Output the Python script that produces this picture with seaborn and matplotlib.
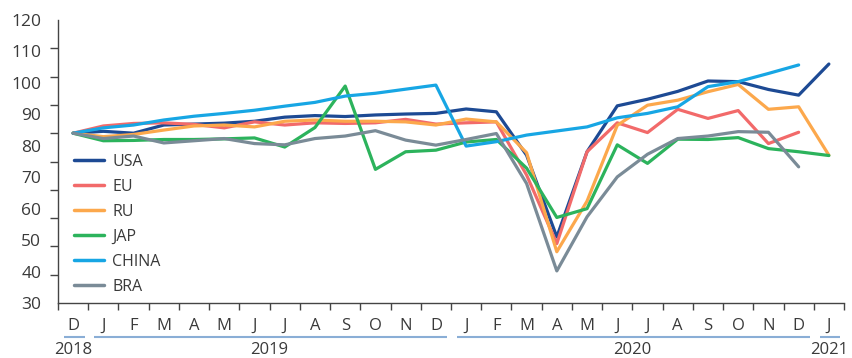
import numpy as np
import pandas as pd
import matplotlib
matplotlib.use("Agg")
import matplotlib.pyplot as plt
import seaborn as sns

# Monthly index values, Dec 2018 .. Jan 2021
months = ["D", "J", "F", "M", "A", "M", "J", "J", "A", "S", "O", "N", "D",
          "J", "F", "M", "A", "M", "J", "J", "A", "S", "O", "N", "D", "J"]
years = [2018] + [2019] * 12 + [2020] * 12 + [2021]

usa = [84.0, 84.6, 84.0, 86.6, 86.9, 87.2, 87.8, 89.1, 89.6, 89.3, 89.8, 90.1, 90.3,
       91.7, 90.8, 77.0, 51.0, 78.1, 92.7, 94.8, 97.3, 100.6, 100.4, 97.9, 96.1, 106.0]
eu = [84.0, 86.3, 87.1, 87.3, 86.8, 85.7, 87.6, 86.6, 87.3, 87.1, 87.3, 88.4, 86.9,
      87.3, 87.6, 70.7, 48.9, 78.1, 87.3, 84.2, 91.6, 88.7, 91.2, 80.7, 84.3, np.nan]
ru = [84.0, 82.9, 83.6, 85.0, 86.3, 86.6, 86.0, 87.8, 88.2, 87.8, 87.8, 87.6, 86.6,
      88.5, 87.6, 77.8, 46.3, 62.4, 86.5, 92.9, 94.5, 97.2, 99.5, 91.6, 92.4, 77.0]
jap = [84.0, 81.6, 81.7, 82.0, 82.0, 82.2, 82.5, 79.6, 85.8, 99.0, 72.5, 78.1, 78.6,
       81.2, 82.0, 72.9, 57.2, 60.0, 80.3, 74.4, 82.1, 82.0, 82.6, 79.1, 78.1, 76.9]
china = [84.0, 85.7, 86.6, 88.2, 89.4, 90.3, 91.3, 92.6, 93.8, 95.8, 96.7, 98.0, 99.3,
         79.9, 81.3, 83.4, 84.7, 86.0, 88.9, 90.3, 92.4, 98.8, 100.4, 103.0, 105.7, np.nan]
bra = [84.0, 82.3, 83.1, 80.9, 81.6, 82.3, 80.7, 80.3, 82.3, 83.1, 84.8, 81.8, 80.2,
       82.0, 83.9, 68.0, 40.2, 57.4, 70.1, 77.3, 82.3, 83.1, 84.5, 84.3, 73.3, np.nan]

series = {"USA": usa, "EU": eu, "RU": ru, "JAP": jap, "CHINA": china, "BRA": bra}
colors = {"USA": "#1d4a94", "EU": "#f26a6a", "RU": "#fca84c",
          "JAP": "#2cb35c", "CHINA": "#17a6e4", "BRA": "#7a8b97"}

y_labels = list(range(30, 121, 10))

rows = []
for name, vals in series.items():
    for i, v in enumerate(vals):
        rows.append({"t": i, "value": v, "country": name})
df = pd.DataFrame(rows).dropna()

sns.set_style("white")
plt.rcParams["font.family"] = ["Open Sans", "DejaVu Sans"]
text_color = "#3a3a3a"

fig = plt.figure(figsize=(8.52, 3.58), dpi=100)
ax = fig.add_axes([58 / 852, 55 / 358, (844 - 58) / 852, (303 - 20) / 358])

sns.lineplot(data=df, x="t", y="value", hue="country", palette=colors,
             hue_order=list(series.keys()), linewidth=2.3, sort=False,
             estimator=None, ax=ax)

n = len(months)
ax.set_xlim(-0.5, n - 0.5)
ax.set_ylim(y_labels[0], y_labels[-1])

# y axis: labels at each 10, tick marks as minor ticks
ax.set_yticks(y_labels)
ax.set_yticklabels([str(v) for v in y_labels])
ax.set_yticks(np.linspace(y_labels[0], y_labels[-1], 11), minor=True)
ax.tick_params(axis="y", which="major", length=0, pad=12, labelsize=12.5,
               labelcolor=text_color)
ax.tick_params(axis="y", which="minor", length=6, width=1, color="#444444",
               direction="out", left=True)

# x axis: month letters centred between boundary ticks
ax.set_xticks(range(n))
ax.set_xticklabels(months)
ax.set_xticks(np.arange(-0.5, n, 1.0), minor=True)
ax.tick_params(axis="x", which="major", length=0, pad=11, labelsize=12,
               labelcolor=text_color)
ax.tick_params(axis="x", which="minor", length=5, width=1, color="#444444",
               direction="out", bottom=True)

ax.set_xlabel("")
ax.set_ylabel("")
for side in ["top", "right"]:
    ax.spines[side].set_visible(False)
for side in ["left", "bottom"]:
    ax.spines[side].set_color("#444444")
    ax.spines[side].set_linewidth(1.0)

# year groups with underline
trans = ax.get_xaxis_transform()
yr = np.array(years)
for y in sorted(set(years)):
    idx = np.where(yr == y)[0]
    x0, x1 = idx[0] - 0.5 + 0.2, idx[-1] + 0.5 - 0.12
    ax.plot([x0, x1], [-0.12, -0.12], transform=trans, color="#8aaed6",
            linewidth=1.5, clip_on=False, solid_capstyle="butt")
    ax.text((idx[0] + idx[-1]) / 2, -0.165, str(y), transform=trans,
            ha="center", va="center", fontsize=12, color=text_color)

leg = ax.legend(loc="upper left", bbox_to_anchor=(0.012, 0.549), frameon=False,
                fontsize=11.5, handlelength=1.9, labelspacing=0.56,
                handletextpad=0.5, borderaxespad=0)
for t in leg.get_texts():
    t.set_color(text_color)
for line in leg.get_lines():
    line.set_linewidth(2.5)

fig.savefig("out.png", dpi=100)
